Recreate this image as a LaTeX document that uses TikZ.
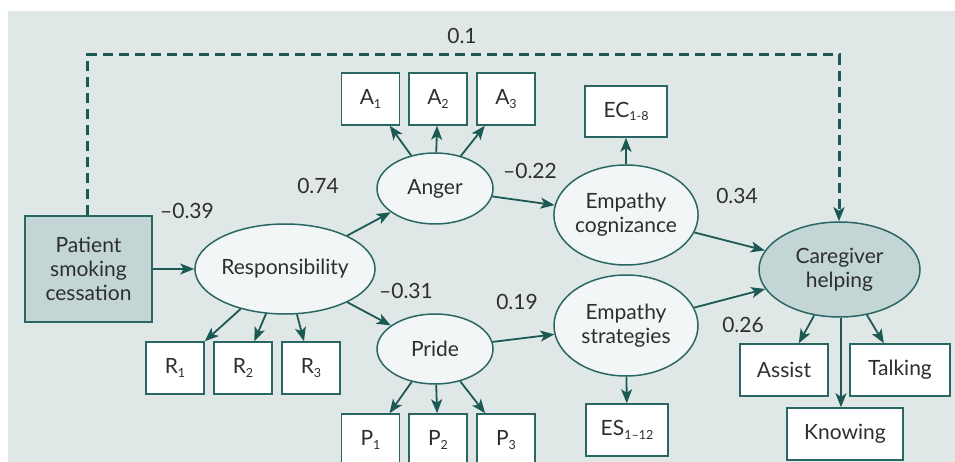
\documentclass[tikz,border=0pt]{standalone}
\usepackage{fontspec}
\setmainfont{Lato}
\usetikzlibrary{shapes.geometric,arrows.meta}
\definecolor{bgc}{HTML}{E0E8E7}
\definecolor{teal1}{HTML}{2A6663}
\definecolor{arr}{HTML}{1D5954}
\definecolor{ellf}{HTML}{F2F6F6}
\definecolor{darkf}{HTML}{C3D5D5}
\definecolor{txt}{HTML}{2E2E2E}
\newcommand{\mysub}[1]{\raisebox{-0.35ex}{\fontsize{12.5}{12.5}\selectfont #1}}
\tikzset{
  base/.style={draw=teal1,line width=1.5pt,text=txt,font=\fontsize{21}{24}\selectfont,align=center,inner sep=0pt},
  lat/.style={base,ellipse,fill=ellf},
  obs/.style={base,rectangle,fill=white,minimum width=58pt,minimum height=52pt},
  conn/.style={draw=arr,line width=1.8pt,-{Stealth[length=14pt,width=11pt,inset=3.5pt]}},
  coef/.style={text=txt,font=\fontsize{21}{24}\selectfont,inner sep=0pt}
}
\begin{document}
\begin{tikzpicture}[x=1pt,y=-1pt]
\useasboundingbox (0,0) rectangle (955,462);
\fill[bgc] (8,11) rectangle (955,462);
% nodes
\node[base,rectangle,fill=darkf,minimum width=127pt,minimum height=106pt] (pat) at (88.5,269) {Patient\\smoking\\cessation};
\node[lat,minimum width=166pt,minimum height=90pt] (resp) at (285,269) {Responsibility};
\node[lat,minimum width=116pt,minimum height=71pt] (ang) at (435,188.5) {Anger};
\node[lat,minimum width=116pt,minimum height=70pt] (pri) at (435,349) {Pride};
\node[lat,minimum width=144pt,minimum height=100pt] (ecog) at (626,215) {Empathy\\cognizance};
\node[lat,minimum width=144pt,minimum height=101pt] (estr) at (626,325.5) {Empathy\\strategies};
\node[base,ellipse,fill=darkf,minimum width=161pt,minimum height=95pt] (care) at (839.5,269.5) {Caregiver\\helping};
\node[obs] (r1) at (175,368) {R\mysub{1}};
\node[obs] (r2) at (243,368) {R\mysub{2}};
\node[obs] (r3) at (311,368) {R\mysub{3}};
\node[obs] (a1) at (370.5,99) {A\mysub{1}};
\node[obs] (a2) at (438,99) {A\mysub{2}};
\node[obs] (a3) at (506,99) {A\mysub{3}};
\node[obs] (p1) at (370.5,440) {P\mysub{1}};
\node[obs] (p2) at (438,440) {P\mysub{2}};
\node[obs] (p3) at (506,440) {P\mysub{3}};
\node[obs,minimum width=82pt,minimum height=51pt] (ec) at (626,111.5) {EC\mysub{1-8}};
\node[obs,minimum width=82pt,minimum height=52pt] (es) at (627,430) {ES\mysub{1--12}};
\node[obs,minimum width=88pt] (assist) at (784,370) {Assist};
\node[obs,minimum width=100pt] (talk) at (900,370) {Talking};
\node[obs,minimum width=116pt] (know) at (845,434) {Knowing};
% connectors
\draw[conn] (pat) -- (resp);
\draw[conn] (resp) -- (ang);
\draw[conn] (resp) -- (pri);
\draw[conn] (resp) -- (r1);
\draw[conn] (resp) -- (r2);
\draw[conn] (resp) -- (r3);
\draw[conn] (ang) -- (a1);
\draw[conn] (ang) -- (a2);
\draw[conn] (ang) -- (a3);
\draw[conn] (pri) -- (p1);
\draw[conn] (pri) -- (p2);
\draw[conn] (pri) -- (p3);
\draw[conn] (ang) -- (ecog);
\draw[conn] (pri) -- (estr);
\draw[conn] (ecog) -- (ec);
\draw[conn] (estr) -- (es);
\draw[conn] (ecog) -- (care);
\draw[conn] (estr) -- (care);
\draw[conn] (care) -- (assist);
\draw[conn] (care) -- (talk);
\draw[conn] ([xshift=1.5pt]care.south) -- ([xshift=1.5pt]care.south |- know.north);
\coordinate (d1) at (87,55);
\coordinate (d2) at (839,55);
\draw[conn,line width=3pt,dash pattern=on 10pt off 6pt] (pat.north -| d1) -- (d1) -- (d2) -- (care.north -| d2);
% coefficients
\node[coef] (c0) at (462,36) {0.1};
\node[coef] (c1) at (187,211) {--0.39};
\node[coef] (c2) at (318,186) {0.74};
\node[coef] (c3) at (530,171) {--0.22};
\node[coef] (c4) at (737,196) {0.34};
\node[coef] (c5) at (406,291) {--0.31};
\node[coef] (c6) at (517,302) {0.19};
\node[coef] (c7) at (743,325) {0.26};
\end{tikzpicture}
\end{document}
